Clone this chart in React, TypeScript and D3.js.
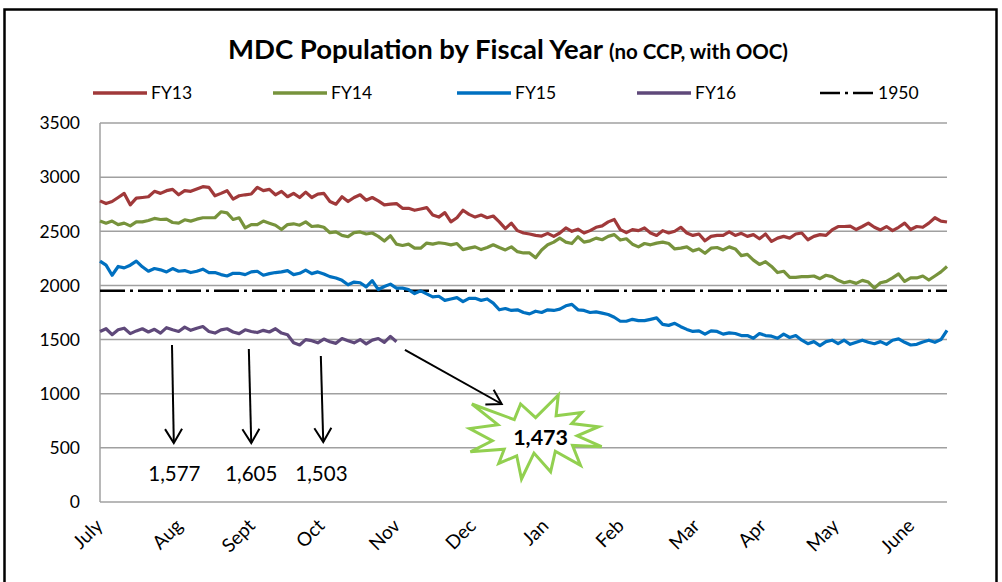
import React from 'react';
import * as d3 from 'd3';

// ---------- data ----------
const fy13 = [2781,2756,2775,2812,2850,2744,2806,2812,2819,2869,2850,2875,2887,2837,2875,2869,2891,2912,2906,2828,2850,2875,2797,2828,2837,2844,2906,2875,2887,2837,2869,2819,2850,2812,2862,2812,2844,2850,2775,2750,2819,2775,2812,2837,2787,2812,2781,2744,2750,2756,2712,2712,2694,2706,2719,2650,2631,2672,2587,2625,2694,2656,2631,2650,2625,2641,2587,2525,2575,2506,2484,2475,2462,2456,2481,2453,2484,2531,2500,2519,2484,2506,2537,2550,2587,2609,2516,2487,2516,2506,2531,2484,2462,2506,2484,2500,2537,2484,2462,2475,2412,2453,2462,2462,2494,2462,2481,2453,2469,2431,2475,2406,2437,2453,2437,2475,2484,2422,2453,2469,2462,2512,2544,2544,2547,2516,2544,2575,2537,2512,2544,2506,2537,2575,2516,2544,2537,2575,2625,2594,2586];
const fy14 = [2594,2575,2594,2562,2575,2550,2587,2587,2600,2619,2609,2612,2581,2575,2606,2594,2612,2625,2625,2625,2680,2670,2609,2625,2531,2562,2562,2594,2575,2556,2516,2562,2569,2556,2587,2544,2550,2537,2487,2494,2462,2450,2487,2494,2475,2484,2453,2410,2459,2381,2369,2381,2344,2344,2391,2381,2394,2387,2375,2387,2331,2344,2356,2331,2350,2375,2350,2328,2356,2312,2300,2300,2256,2328,2375,2400,2437,2400,2387,2450,2400,2412,2437,2422,2453,2469,2419,2431,2381,2356,2387,2375,2391,2400,2387,2337,2344,2356,2319,2337,2297,2344,2350,2328,2356,2337,2275,2287,2234,2194,2219,2175,2119,2131,2075,2075,2081,2081,2087,2062,2094,2081,2047,2025,2037,2019,2047,2031,1975,2025,2037,2069,2106,2037,2069,2069,2087,2050,2087,2125,2175];
const fy15 = [2225,2187,2094,2175,2162,2187,2225,2172,2131,2156,2144,2125,2156,2131,2137,2119,2131,2150,2119,2119,2100,2087,2112,2112,2100,2125,2131,2094,2109,2119,2125,2137,2100,2112,2141,2109,2125,2106,2081,2069,2047,2006,2031,2025,1987,2044,1962,1990,2012,1975,1975,1962,1925,1950,1922,1894,1900,1862,1875,1887,1850,1881,1881,1862,1875,1837,1775,1787,1769,1775,1750,1737,1762,1750,1775,1769,1781,1812,1825,1775,1769,1750,1756,1744,1731,1706,1669,1669,1687,1675,1675,1687,1700,1640,1631,1650,1619,1594,1575,1581,1550,1581,1575,1550,1562,1556,1537,1537,1512,1556,1537,1531,1512,1550,1519,1537,1494,1462,1481,1444,1481,1494,1462,1494,1456,1475,1494,1475,1462,1481,1456,1494,1506,1475,1450,1456,1478,1494,1475,1500,1585];
const fy16 = [1575,1600,1545,1590,1605,1555,1580,1600,1570,1595,1560,1610,1590,1575,1615,1585,1605,1620,1575,1560,1590,1600,1570,1555,1590,1575,1565,1585,1570,1600,1560,1545,1470,1450,1500,1490,1470,1505,1480,1465,1510,1490,1470,1500,1460,1495,1510,1475,1530,1480];
const refValue = 1950;

const yTicks = [0, 500, 1000, 1500, 2000, 2500, 3000, 3500];
const monthLabels = ['July', 'Aug', 'Sept', 'Oct', 'Nov', 'Dec', 'Jan', 'Feb', 'Mar', 'Apr', 'May', 'June'];
const monthTickIndex = [0.3, 13.5, 25.5, 37, 49.5, 62, 74, 86.5, 99, 110, 122, 134.5];

const seriesNames = ['FY13', 'FY14', 'FY15', 'FY16'];
const seriesValues = [fy13, fy14, fy15, fy16];
const seriesColors = ['#A0393A', '#77933C', '#0070C0', '#5F497A'];

// callouts: arrow from (idx0,v0) to (idx1,v1), label at (labelIdx, labelValue)
const calloutLabels = ['1,577', '1,605', '1,503'];
const calloutFrom = [[11.9, 1450], [24.6, 1413], [36.5, 1348]];
const calloutTo = [[12.2, 545], [25.0, 545], [36.9, 554]];
const calloutLabelIdx = [12.3, 25.0, 36.6];
const calloutLabelValue = 194;

const burstLabel = '1,473';
const burstCenter = [72, 600];
const burstArrowFrom = [50.4, 1404];
const burstArrowTo = [66.4, 905];

// Excel "Explosion 1" (irregularSeal1) geometry in 21600 units
const sealPts = [[10800,5800],[14522,0],[14155,5325],[18380,4457],[16702,7315],[21097,8137],[17607,10475],[21600,13290],[16837,12942],[18145,18095],[14020,14457],[13247,19737],[10532,14935],[8485,21600],[7715,15627],[4762,17617],[5667,13937],[135,14587],[3722,11775],[0,8615],[4627,7617],[370,2295],[7312,6320],[8352,2295]];

const FONT = "Lato, 'Open Sans', 'DejaVu Sans', sans-serif";

export default function App() {
  const W = 1002, H = 582;
  const plot = { left: 100, right: 947, top: 123, bottom: 502 };
  const x = d3.scaleLinear().domain([0, 140]).range([plot.left, plot.right]);
  const y = d3.scaleLinear().domain([0, 3500]).range([plot.bottom, plot.top]);
  const line = d3.line<number>().x((_, i) => x(i)).y(d => y(d));

  const legendX = [93, 273, 457, 637, 820];
  const legendY = 93;

  const bw = 132, bh = 84;
  const bcx = x(burstCenter[0]), bcy = y(burstCenter[1]);
  const sealPath = 'M' + sealPts.map(p => `${(bcx - bw / 2 + p[0] / 21600 * bw).toFixed(1)},${(bcy - bh / 2 + p[1] / 21600 * bh).toFixed(1)}`).join('L') + 'Z';

  const arrowHead = (x0: number, y0: number, x1: number, y1: number) => {
    const a = Math.atan2(y1 - y0, x1 - x0);
    const L = 14, Wd = 8.5;
    const bx = x1 - L * Math.cos(a), by = y1 - L * Math.sin(a);
    const px = -Math.sin(a) * Wd, py = Math.cos(a) * Wd;
    return `M${bx + px},${by + py}L${x1},${y1}L${bx - px},${by - py}`;
  };

  return (
    <svg width={W} height={H} style={{ position: 'absolute', left: 0, top: 0, background: '#fff' }} fontFamily={FONT}>
      <rect x={0} y={0} width={W} height={H} fill="#fff" />
      <rect x={4.5} y={9.5} width={992} height={620} fill="none" stroke="#000" strokeWidth={2.5} />

      {/* title */}
      <text x={508} y={59} textAnchor="middle" fontWeight="bold" fill="#000">
        <tspan fontSize={27.5}>MDC Population by Fiscal Year </tspan>
        <tspan fontSize={20.5}>(no CCP, with OOC)</tspan>
      </text>

      {/* legend */}
      {seriesNames.map((n, i) => (
        <g key={n}>
          <line x1={legendX[i]} x2={legendX[i] + 54} y1={legendY} y2={legendY} stroke={seriesColors[i]} strokeWidth={3.5} />
          <text x={legendX[i] + 58} y={legendY} dy="0.36em" fontSize={17.5} fill="#000">{n}</text>
        </g>
      ))}
      <line x1={legendX[4]} x2={legendX[4] + 54} y1={legendY} y2={legendY} stroke="#000" strokeWidth={2.5} strokeDasharray="20 5 3 5" />
      <text x={legendX[4] + 58} y={legendY} dy="0.36em" fontSize={17.5} fill="#000">{String(refValue)}</text>

      {/* grid */}
      {yTicks.map(t => (
        <g key={t}>
          <line x1={plot.left} x2={plot.right} y1={y(t)} y2={y(t)} stroke="#A0A0A0" strokeWidth={1.5} />
          <text x={80} y={y(t)} dy="0.36em" textAnchor="end" fontSize={17.5} fill="#000">{t}</text>
        </g>
      ))}
      <line x1={plot.left} x2={plot.left} y1={plot.top} y2={plot.bottom} stroke="#A0A0A0" strokeWidth={1.5} />

      {/* x labels */}
      {monthLabels.map((m, i) => (
        <text key={m} transform={`translate(${x(monthTickIndex[i]) + 2},${527}) rotate(-45)`} textAnchor="end" fontSize={19} fill="#000">{m}</text>
      ))}

      {/* reference line */}
      <line x1={x(0)} x2={x(140)} y1={y(refValue)} y2={y(refValue)} stroke="#000" strokeWidth={2.5} strokeDasharray="25 5 3 5" />

      {/* series */}
      {seriesValues.map((vals, i) => (
        <path key={seriesNames[i]} d={line(vals) || ''} fill="none" stroke={seriesColors[i]} strokeWidth={3.2} strokeLinejoin="round" />
      ))}

      {/* callouts */}
      {calloutLabels.map((lab, i) => {
        const x0 = x(calloutFrom[i][0]), y0 = y(calloutFrom[i][1]);
        const x1 = x(calloutTo[i][0]), y1 = y(calloutTo[i][1]);
        return (
          <g key={lab}>
            <line x1={x0} y1={y0} x2={x1} y2={y1} stroke="#000" strokeWidth={2} />
            <path d={arrowHead(x0, y0, x1, y1)} fill="none" stroke="#000" strokeWidth={2} />
            <text x={x(calloutLabelIdx[i])} y={y(calloutLabelValue)} textAnchor="middle" fontSize={20.5} fill="#000">{lab}</text>
          </g>
        );
      })}

      {(() => {
        const x0 = x(burstArrowFrom[0]), y0 = y(burstArrowFrom[1]);
        const x1 = x(burstArrowTo[0]), y1 = y(burstArrowTo[1]);
        return (
          <g>
            <line x1={x0} y1={y0} x2={x1} y2={y1} stroke="#000" strokeWidth={2} />
            <path d={arrowHead(x0, y0, x1, y1)} fill="none" stroke="#000" strokeWidth={2} />
          </g>
        );
      })()}
      <path d={sealPath} fill="#fff" stroke="#92D050" strokeWidth={3} strokeLinejoin="miter" />
      <text x={bcx + 5} y={bcy + 8} textAnchor="middle" fontSize={21.5} fontWeight="bold" fill="#000">{burstLabel}</text>
    </svg>
  );
}
